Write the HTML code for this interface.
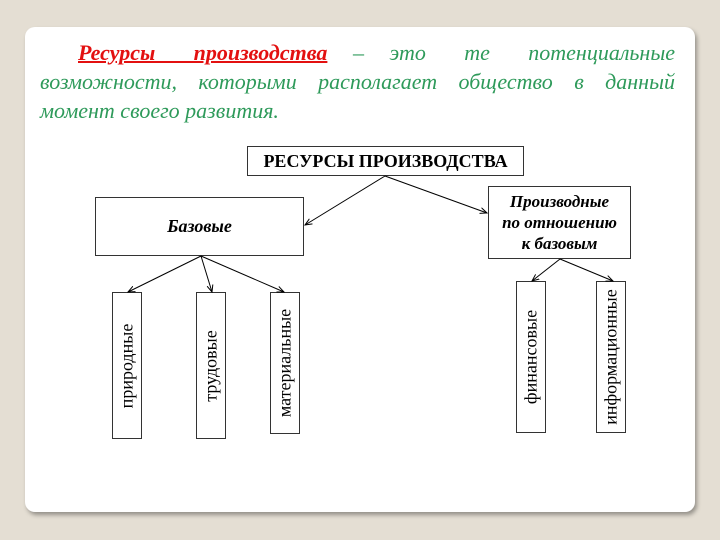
<!DOCTYPE html>
<html><head><meta charset="utf-8"><style>
body{margin:0;width:720px;height:540px;background:#e4ded3;position:relative;overflow:hidden;font-family:"Liberation Serif",serif}
.card{position:absolute;left:25px;top:27px;width:670px;height:485px;background:#fff;border-radius:10px;box-shadow:2px 3px 4px rgba(0,0,0,.35)}
.txt{position:absolute;left:40px;top:38px;width:635px;font-style:italic;color:#2e9a5a;font-size:22px;line-height:29px;text-align:justify;text-align-last:left}
.txt b{color:#e31010;text-decoration:underline;text-decoration-thickness:2px;font-weight:bold}
.box{position:absolute;border:1.5px solid #333;box-sizing:border-box;background:#fff;display:flex;align-items:center;justify-content:center;text-align:center;font-weight:bold;color:#000}
.v{position:absolute;border:1.5px solid #333;box-sizing:border-box;background:#fff}
.v span{position:absolute;left:50%;top:50%;transform:translate(-50%,-50%) rotate(-90deg);white-space:nowrap;font-size:18px}
</style></head><body>
<div class="card"></div>
<div class="txt"><span style="padding-left:38px"></span><b>Ресурсы&nbsp;&nbsp; производства</b> &nbsp;– &nbsp;это &nbsp;&nbsp;те &nbsp;&nbsp;потенциальные возможности, которыми располагает общество в данный момент своего развития.</div>
<div class="box" style="left:247px;top:146px;width:277px;height:30px;font-size:18px">РЕСУРСЫ ПРОИЗВОДСТВА</div>
<div class="box" style="left:95px;top:197px;width:209px;height:59px;font-style:italic;font-size:18px">Базовые</div>
<div class="box" style="left:488px;top:186px;width:143px;height:73px;font-style:italic;font-size:17px;line-height:21px">Производные<br>по отношению<br>к базовым</div>
<div class="v" style="left:112px;top:292px;width:30px;height:147px"><span>природные</span></div>
<div class="v" style="left:196px;top:292px;width:30px;height:147px"><span>трудовые</span></div>
<div class="v" style="left:270px;top:292px;width:30px;height:142px"><span>материальные</span></div>
<div class="v" style="left:516px;top:281px;width:30px;height:152px"><span>финансовые</span></div>
<div class="v" style="left:596px;top:281px;width:30px;height:152px"><span>информационные</span></div>
<svg width="720" height="540" style="position:absolute;left:0;top:0">
<defs><marker id="a" markerWidth="8" markerHeight="8" refX="7" refY="4" orient="auto" markerUnits="userSpaceOnUse"><path d="M0,1 L7,4 L0,7" fill="none" stroke="#000" stroke-width="1"/></marker></defs>
<g stroke="#000" stroke-width="1" marker-end="url(#a)">
<line x1="385" y1="176" x2="305" y2="225"/>
<line x1="385" y1="176" x2="487" y2="213"/>
<line x1="201" y1="256" x2="128" y2="292"/>
<line x1="201" y1="256" x2="212" y2="292"/>
<line x1="201" y1="256" x2="284" y2="292"/>
<line x1="560" y1="259" x2="532" y2="281"/>
<line x1="560" y1="259" x2="613" y2="281"/>
</g></svg>
</body></html>
